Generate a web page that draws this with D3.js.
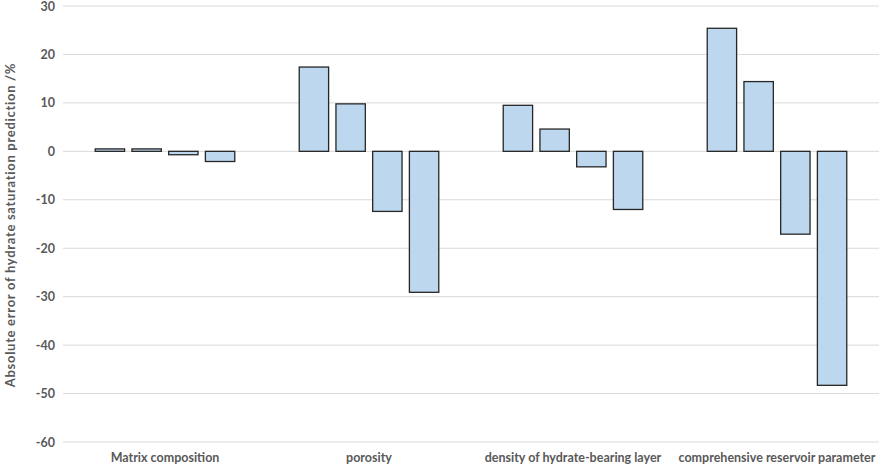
<!DOCTYPE html>
<html>
<head>
<meta charset="utf-8">
<script src="https://cdn.jsdelivr.net/npm/d3@7"></script>
<style>
  body { margin: 0; background: #fff; }
  text { font-family: Lato, "Open Sans", sans-serif; font-weight: bold; fill: #595959; }
</style>
</head>
<body>
<svg width="886" height="468"></svg>
<script>
// chart data
const categories = ["Matrix composition", "porosity", "density of hydrate-bearing layer", "comprehensive reservoir parameter"];
const series = ["s1", "s2", "s3", "s4"];
const values = [
  [0.5, 0.5, -0.7, -2.1],
  [17.4, 9.8, -12.4, -29.1],
  [9.5, 4.6, -3.2, -12.0],
  [25.4, 14.4, -17.1, -48.3]
];
const yTicks = [30, 20, 10, 0, -10, -20, -30, -40, -50, -60];

const svg = d3.select("svg");
const mLeft = 63, mRight = 879, mTop = 6, mBottom = 442;

const y = d3.scaleLinear().domain([-60, 30]).range([mBottom, mTop]);
const x0 = d3.scaleBand().domain(categories).range([mLeft, mRight]).paddingInner(0).paddingOuter(0);
const groupW = x0.bandwidth() * 0.72;
const x1 = d3.scaleBand().domain(series).range([0, groupW]).paddingInner(0.2).paddingOuter(0.1);

// gridlines
svg.append("g")
  .selectAll("line")
  .data(yTicks)
  .join("line")
  .attr("x1", mLeft).attr("x2", mRight)
  .attr("y1", d => y(d)).attr("y2", d => y(d))
  .attr("stroke", "#d9d9d9").attr("stroke-width", 1);

// y axis labels (plain hyphen minus like the original)
const yAxis = d3.axisLeft(y).tickValues(yTicks).tickFormat(d => String(d)).tickSize(0).tickPadding(8);
const ya = svg.append("g").attr("transform", `translate(${mLeft},0)`).call(yAxis);
ya.select(".domain").remove();
ya.selectAll("text").style("font-size", "12.5px").attr("fill", "#595959");

// bars
const groups = svg.append("g")
  .selectAll("g")
  .data(categories)
  .join("g")
  .attr("transform", d => `translate(${x0(d) + (x0.bandwidth() - groupW) / 2},0)`);

groups.selectAll("rect")
  .data((d, i) => values[i].map((v, j) => ({ s: series[j], v })))
  .join("rect")
  .attr("x", d => x1(d.s))
  .attr("width", x1.bandwidth())
  .attr("y", d => Math.min(y(d.v), y(0)))
  .attr("height", d => Math.abs(y(d.v) - y(0)))
  .attr("fill", "#bdd7ee")
  .attr("stroke", "#262626")
  .attr("stroke-width", 1.3);

// category labels
svg.append("g")
  .selectAll("text")
  .data(categories)
  .join("text")
  .attr("x", d => x0(d) + x0.bandwidth() / 2)
  .attr("y", 462)
  .attr("text-anchor", "middle")
  .style("font-size", "12.5px")
  .text(d => d);

// y axis title
svg.append("text")
  .attr("transform", "translate(15,225) rotate(-90)")
  .attr("text-anchor", "middle")
  .style("font-size", "13px")
  .style("letter-spacing", "0.7px")
  .text("Absolute error of hydrate saturation prediction /%");
</script>
</body>
</html>
